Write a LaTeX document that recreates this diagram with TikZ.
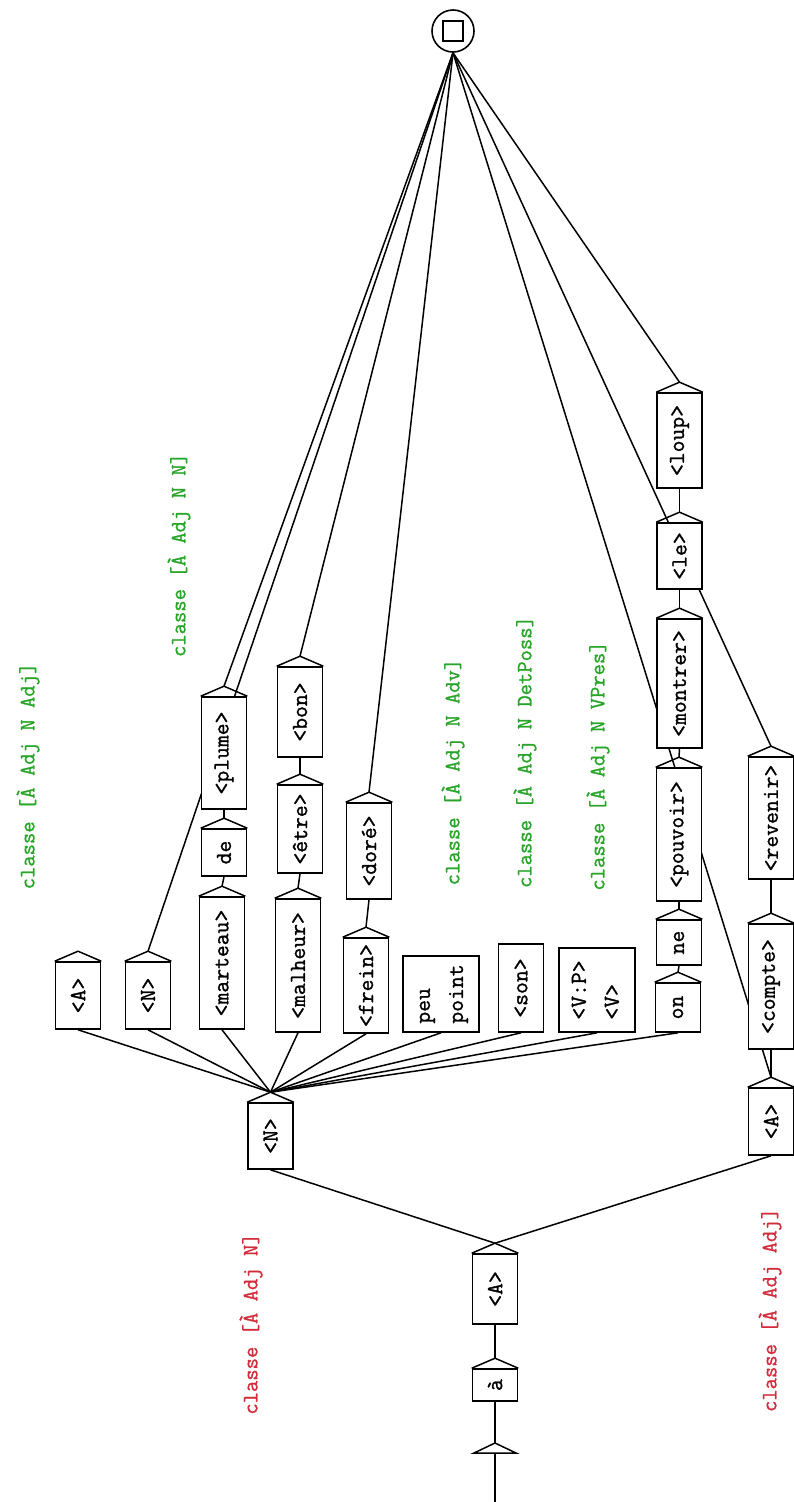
\documentclass[tikz,border=0pt]{standalone}
\usepackage{fontspec}
\usepackage{graphicx}
\usetikzlibrary{backgrounds}
\newfontfamily\gfont{Latin Modern Mono}[FakeBold=1.2]
\definecolor{cgreen}{RGB}{40,165,40}
\definecolor{cred}{RGB}{210,45,60}
\tikzset{
  bx/.style={draw=black, fill=white, line width=1.6pt, inner sep=0pt, minimum width=45pt,
    font=\gfont\fontsize{23}{27}\selectfont},
  ln/.style={line width=1.5pt},
  cmt/.style={inner sep=0pt, font=\gfont\fontsize{22}{26}\selectfont},
}
\newcommand\rt[1]{\rotatebox{90}{#1}}
\newcommand\rtt[2]{\rotatebox{90}{\begin{tabular}{@{}l@{}}#1\\[6pt]#2\end{tabular}}}
\newcommand\boxhat[1]{\draw[ln] (#1.north west) -- ([yshift=10pt]#1.north) coordinate (#1-o) -- (#1.north east);}
\begin{document}
\begin{tikzpicture}[x=1pt,y=-1pt]
\useasboundingbox (0,0) rectangle (794,1502);
% boxes
\node[bx, minimum height=32pt] (agr) at (495,1385) {\rt{à}};
\node[bx, minimum height=70pt] (Aa) at (495,1289) {\rt{<A>}};
\node[bx, minimum height=66pt] (Nm) at (270.5,1136) {\rt{<N>}};
\node[bx, minimum height=67pt] (Ar) at (771,1121.5) {\rt{<A>}};
\node[bx, minimum height=67pt] (A2) at (78,995.5) {\rt{<A>}};
\node[bx, minimum height=67pt] (N2) at (148,995.5) {\rt{<N>}};
\node[bx, minimum height=132pt] (marteau) at (222,963) {\rt{<marteau>}};
\node[bx, minimum height=47pt] (de) at (224,852.5) {\rt{de}};
\node[bx, minimum height=112pt] (plume) at (224,753) {\rt{<plume>}};
\node[bx, minimum height=133pt] (malheur) at (298,965.5) {\rt{<malheur>}};
\node[bx, minimum height=88pt] (etre) at (300,829) {\rt{<être>}};
\node[bx, minimum height=90pt] (bon) at (300,712) {\rt{<bon>}};
\node[bx, minimum height=95pt] (frein) at (366,985.5) {\rt{<frein>}};
\node[bx, minimum height=96pt] (dore) at (369,851) {\rt{<doré>}};
\node[bx, minimum height=76pt, minimum width=76pt] (peu) at (441,994) {\rtt{peu}{point}};
\node[bx, minimum height=88pt] (son) at (521,988) {\rt{<son>}};
\node[bx, minimum height=84pt, minimum width=76pt] (VP) at (597,990) {\rtt{<V:P>}{<V>}};
\node[bx, minimum height=49pt] (on) at (678,1007.5) {\rt{on}};
\node[bx, minimum height=45pt] (ne) at (679,942.5) {\rt{ne}};
\node[bx, minimum height=133pt] (pouvoir) at (679,834.5) {\rt{<pouvoir>}};
\node[bx, minimum height=129pt] (montrer) at (679.5,683.5) {\rt{<montrer>}};
\node[bx, minimum height=66pt] (le) at (679.5,556) {\rt{<le>}};
\node[bx, minimum height=95pt] (loup) at (679.5,440.5) {\rt{<loup>}};
\node[bx, minimum height=125pt] (compte) at (771,986.5) {\rt{<compte>}};
\node[bx, minimum height=122pt] (revenir) at (771,818) {\rt{<revenir>}};
% hats
\foreach \b in {agr,Aa,Nm,Ar,A2,N2,marteau,de,plume,malheur,etre,bon,frein,dore,on,ne,pouvoir,montrer,le,loup,compte,revenir}{\boxhat{\b}}
% final state
\node[circle, draw, line width=1.6pt, minimum size=42pt, inner sep=0pt] (fin) at (453,31) {};
\draw[line width=1.8pt] ([shift={(-10,-10)}]fin.center) rectangle ([shift={(10,10)}]fin.center);
% initial state
\coordinate (ini) at (495,1443);
\coordinate (inib) at (495,1453);
\coordinate (start) at (495,1502);
\draw[ln] (ini) -- (474,1453) -- (516,1453) -- cycle;
\draw[ln] (start) -- (inib);
% comments
\node[cmt, text=cgreen] (g1) at (28,776) {\rt{classe [À Adj N Adj]}};
\node[cmt, text=cgreen] (g2) at (179,555) {\rt{classe [À Adj N N]}};
\node[cmt, text=cgreen] (g3) at (453,772) {\rt{classe [À Adj N Adv]}};
\node[cmt, text=cgreen] (g4) at (525,752) {\rt{classe [À Adj N DetPoss]}};
\node[cmt, text=cgreen] (g5) at (598,766) {\rt{classe [À Adj N VPres]}};
\node[cmt, text=cred] (r1) at (251,1324) {\rt{classe [À Adj N]}};
\node[cmt, text=cred] (r2) at (770,1310) {\rt{classe [À Adj Adj]}};
% transitions
\begin{pgfonlayer}{background}
\draw[ln] (ini) -- (agr.south);
\draw[ln] (agr-o) -- (Aa.south);
\draw[ln] (Aa-o) -- (Nm.south);
\draw[ln] (Aa-o) -- (Ar.south);
\foreach \t in {A2,N2,marteau,malheur,frein,peu,son,VP,on}{\draw[ln] (Nm-o) -- (\t.south);}
\draw[ln] (N2-o) -- (fin.south);
\draw[ln] (marteau-o) -- (de.south);
\draw[ln] (de-o) -- (plume.south);
\draw[ln] (plume-o) -- (fin.south);
\draw[ln] (malheur-o) -- (etre.south);
\draw[ln] (etre-o) -- (bon.south);
\draw[ln] (bon-o) -- (fin.south);
\draw[ln] (frein-o) -- (dore.south);
\draw[ln] (dore-o) -- (fin.south);
\draw[ln] (on-o) -- (ne.south);
\draw[ln] (ne-o) -- (pouvoir.south);
\draw[ln] (pouvoir-o) -- (montrer.south);
\draw[ln] (montrer-o) -- (le.south);
\draw[ln] (le-o) -- (loup.south);
\draw[ln] (loup-o) -- (fin.south);
\draw[ln] (Ar-o) -- (compte.south);
\draw[ln] (Ar-o) -- (fin.south);
\draw[ln] (compte-o) -- (revenir.south);
\draw[ln] (revenir-o) -- (fin.south);
\end{pgfonlayer}
\end{tikzpicture}
\end{document}
